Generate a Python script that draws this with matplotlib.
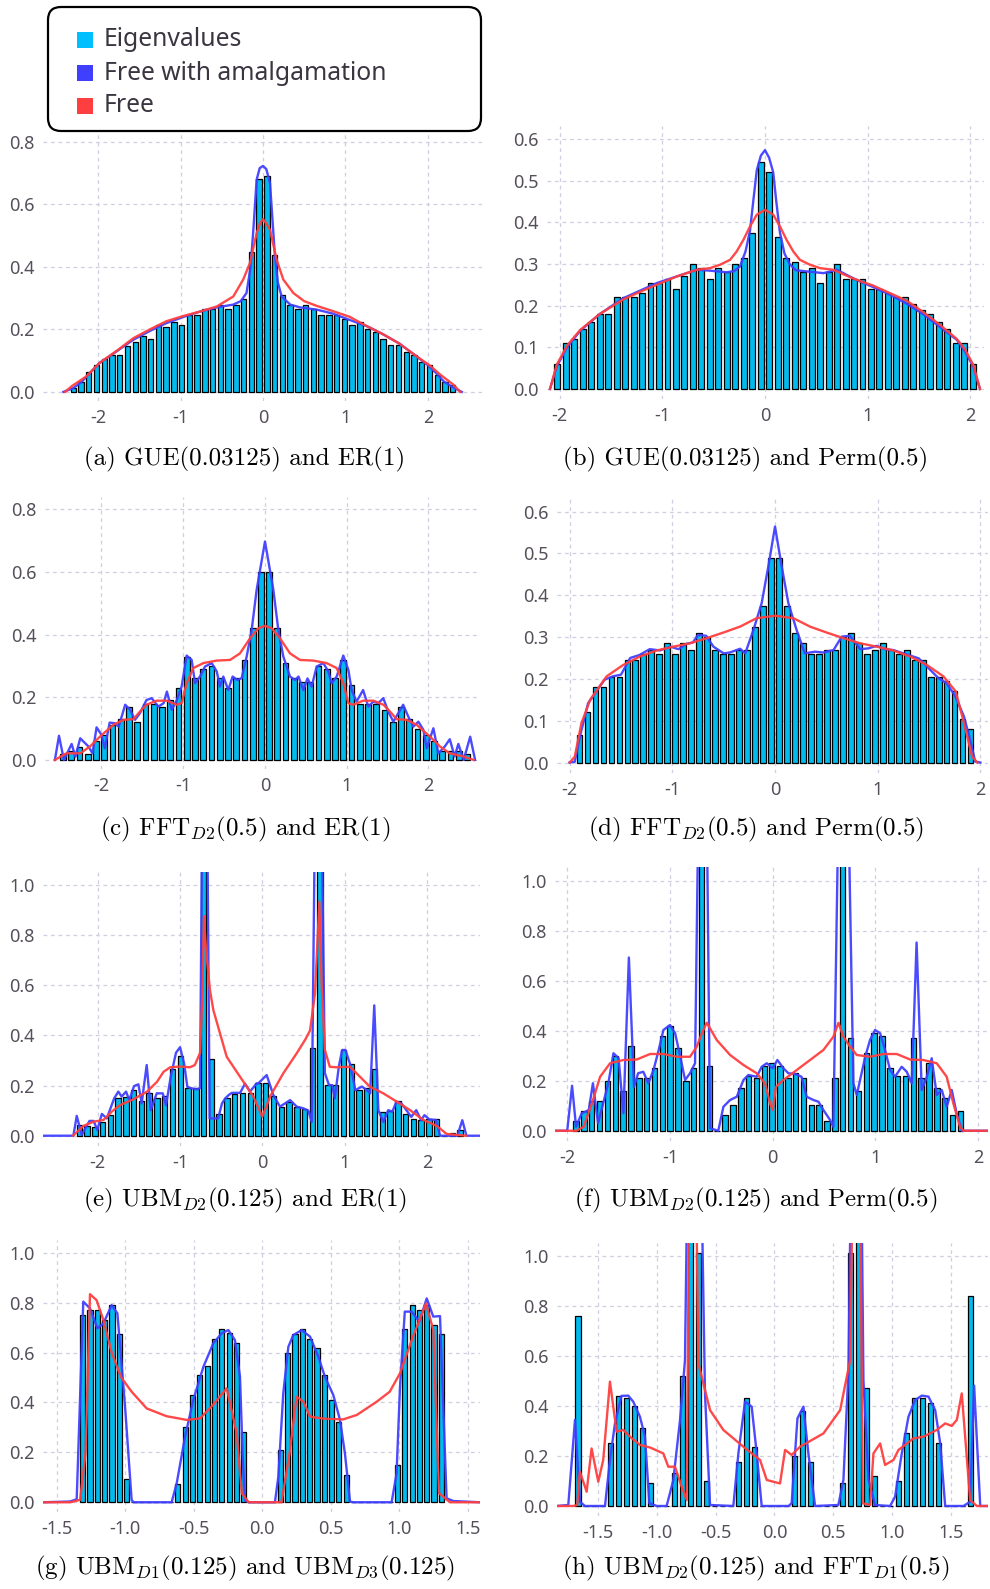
import numpy as np
import matplotlib
matplotlib.use("Agg")
import matplotlib.pyplot as plt
from matplotlib.patches import FancyBboxPatch, Rectangle
from matplotlib.ticker import FixedLocator, FormatStrFormatter

plt.rcParams['axes.unicode_minus'] = False
plt.rcParams['mathtext.fontset'] = 'cm'

# ------------------------------------------------------------------ data
legend_labels = ["Eigenvalues", "Free with amalgamation", "Free"]

# (a) GUE(0.03125) and ER(1)
a_bin_range = (-2.30, 2.30)
a_bars = [0.013, 0.032, 0.063, 0.085, 0.105, 0.117, 0.117, 0.146, 0.16, 0.18,
          0.17, 0.213, 0.207, 0.223, 0.213, 0.245, 0.245, 0.266, 0.266, 0.277,
          0.266, 0.277, 0.298, 0.447, 0.681, 0.691, 0.436, 0.309, 0.277, 0.266,
          0.277, 0.266, 0.245, 0.245, 0.245, 0.234, 0.213, 0.223, 0.202, 0.191,
          0.17, 0.149, 0.149, 0.128, 0.117, 0.096, 0.085, 0.053, 0.032, 0.021]
a_amalg = [(-2.42, 0), (-2.3, 0.012), (-2.2, 0.032), (-2.1, 0.06), (-1.98, 0.093), (-1.8, 0.125),
           (-1.57, 0.167), (-1.37, 0.195), (-1.17, 0.22), (-0.96, 0.24), (-0.76, 0.257), (-0.56, 0.27),
           (-0.36, 0.279), (-0.27, 0.29), (-0.2, 0.316), (-0.15, 0.40), (-0.117, 0.518), (-0.077, 0.678),
           (-0.04, 0.715), (0, 0.722), (0.04, 0.712), (0.085, 0.667), (0.115, 0.55), (0.145, 0.433),
           (0.18, 0.35), (0.226, 0.305), (0.33, 0.279), (0.45, 0.27), (0.65, 0.263), (0.85, 0.25),
           (1.05, 0.23), (1.26, 0.21), (1.45, 0.185), (1.65, 0.155), (1.86, 0.114), (2.0, 0.085),
           (2.1, 0.06), (2.19, 0.034), (2.3, 0.015), (2.41, 0)]
a_free = [(-2.40, 0), (-2.32, 0.018), (-2.14, 0.05), (-1.98, 0.093), (-1.78, 0.13), (-1.57, 0.172),
          (-1.37, 0.2), (-1.17, 0.226), (-0.96, 0.243), (-0.76, 0.257), (-0.56, 0.273), (-0.36, 0.305),
          (-0.24, 0.359), (-0.158, 0.412), (-0.077, 0.507), (-0.035, 0.54), (0, 0.552), (0.035, 0.54),
          (0.085, 0.518), (0.166, 0.422), (0.246, 0.359), (0.368, 0.316), (0.5, 0.29), (0.65, 0.275),
          (0.85, 0.258), (1.05, 0.24), (1.26, 0.21), (1.45, 0.185), (1.65, 0.155), (1.86, 0.114),
          (2.02, 0.085), (2.15, 0.055), (2.31, 0.023), (2.39, 0)]

# (b) GUE(0.03125) and Perm(0.5)
b_bin_range = (-2.025, 2.025)
b_bars = [0.06, 0.11, 0.12, 0.145, 0.16, 0.18, 0.18, 0.22, 0.22, 0.22,
          0.23, 0.255, 0.255, 0.265, 0.24, 0.27, 0.30, 0.29, 0.265, 0.29,
          0.28, 0.30, 0.315, 0.375, 0.545, 0.52, 0.365, 0.315, 0.305, 0.28,
          0.29, 0.255, 0.28, 0.30, 0.265, 0.265, 0.265, 0.24, 0.24, 0.23,
          0.22, 0.22, 0.205, 0.19, 0.18, 0.16, 0.145, 0.11, 0.11, 0.06]
b_amalg = [(-2.096, 0), (-2.03, 0.054), (-1.93, 0.10), (-1.80, 0.14), (-1.61, 0.18), (-1.38, 0.218),
           (-1.2, 0.238), (-1.056, 0.254), (-0.86, 0.27), (-0.666, 0.286), (-0.54, 0.284), (-0.374, 0.28),
           (-0.3, 0.283), (-0.244, 0.294), (-0.19, 0.33), (-0.146, 0.38), (-0.11, 0.46), (-0.08, 0.525),
           (-0.04, 0.56), (0, 0.573), (0.04, 0.555), (0.08, 0.52), (0.11, 0.45), (0.146, 0.375),
           (0.19, 0.325), (0.24, 0.30), (0.3, 0.285), (0.41, 0.282), (0.57, 0.278), (0.70, 0.286),
           (0.89, 0.262), (1.05, 0.245), (1.22, 0.226), (1.38, 0.205), (1.54, 0.18), (1.70, 0.15),
           (1.87, 0.118), (1.95, 0.09), (2.03, 0.054), (2.096, 0)]
b_free = [(-2.096, 0), (-2.03, 0.058), (-1.93, 0.104), (-1.80, 0.142), (-1.61, 0.18), (-1.38, 0.215),
          (-1.2, 0.235), (-1.056, 0.25), (-0.86, 0.27), (-0.666, 0.286), (-0.536, 0.29), (-0.44, 0.298),
          (-0.34, 0.31), (-0.276, 0.33), (-0.21, 0.358), (-0.146, 0.39), (-0.081, 0.418), (0, 0.43),
          (0.081, 0.418), (0.146, 0.39), (0.21, 0.358), (0.276, 0.33), (0.34, 0.31), (0.44, 0.298),
          (0.536, 0.29), (0.666, 0.286), (0.86, 0.265), (1.056, 0.248), (1.2, 0.232), (1.38, 0.212),
          (1.54, 0.185), (1.70, 0.155), (1.87, 0.12), (1.95, 0.095), (2.03, 0.058), (2.096, 0)]

# (c) FFT_D2(0.5) and ER(1)
c_bin_range = (-2.47, 2.47)
c_bars = [0.02, 0.03, 0.04, 0.02, 0.06, 0.08, 0.11, 0.13, 0.17, 0.12,
          0.18, 0.18, 0.17, 0.19, 0.23, 0.33, 0.26, 0.29, 0.30, 0.26,
          0.23, 0.26, 0.32, 0.42, 0.60, 0.60, 0.42, 0.31, 0.26, 0.25,
          0.25, 0.30, 0.29, 0.26, 0.32, 0.24, 0.18, 0.18, 0.18, 0.16,
          0.12, 0.17, 0.13, 0.10, 0.08, 0.06, 0.03, 0.03, 0.03, 0.02]
c_amalg = [(-2.57, 0), (-2.52, 0.077), (-2.46, 0), (-2.365, 0.051), (-2.32, 0.01), (-2.26, 0.069),
           (-2.16, 0.043), (-2.11, 0.021), (-2.06, 0.104), (-2.0, 0.08), (-1.96, 0.037), (-1.90, 0.119),
           (-1.835, 0.117), (-1.79, 0.106), (-1.71, 0.176), (-1.65, 0.16), (-1.59, 0.128), (-1.53, 0.149),
           (-1.45, 0.191), (-1.386, 0.197), (-1.305, 0.17), (-1.24, 0.181), (-1.2, 0.218), (-1.14, 0.16),
           (-1.08, 0.19), (-1.02, 0.234), (-0.958, 0.333), (-0.897, 0.319), (-0.856, 0.245), (-0.795, 0.266),
           (-0.734, 0.298), (-0.652, 0.309), (-0.59, 0.282), (-0.55, 0.234), (-0.51, 0.266), (-0.449, 0.223),
           (-0.396, 0.266), (-0.338, 0.255), (-0.285, 0.261), (-0.224, 0.33), (-0.163, 0.415), (-0.102, 0.543),
           (0, 0.697), (0.102, 0.543), (0.163, 0.415), (0.224, 0.33), (0.306, 0.266), (0.367, 0.255),
           (0.41, 0.266), (0.469, 0.223), (0.52, 0.26), (0.571, 0.234), (0.632, 0.298), (0.714, 0.309),
           (0.775, 0.282), (0.815, 0.245), (0.877, 0.266), (0.958, 0.333), (1.02, 0.287), (1.06, 0.223),
           (1.12, 0.186), (1.2, 0.223), (1.264, 0.17), (1.325, 0.186), (1.386, 0.181), (1.447, 0.197),
           (1.508, 0.154), (1.57, 0.122), (1.63, 0.149), (1.69, 0.176), (1.753, 0.138), (1.814, 0.106),
           (1.876, 0.122), (1.937, 0.096), (1.978, 0.037), (2.06, 0.101), (2.12, 0.021), (2.2, 0.043),
           (2.26, 0.066), (2.32, 0.011), (2.365, 0.051), (2.43, 0), (2.51, 0.074), (2.57, 0)]
c_free = [(-2.57, 0), (-2.43, 0.021), (-2.26, 0.021), (-2.14, 0.043), (-2.02, 0.074), (-1.855, 0.112),
          (-1.73, 0.128), (-1.61, 0.13), (-1.53, 0.154), (-1.45, 0.176), (-1.325, 0.189), (-1.2, 0.189),
          (-1.08, 0.176), (-1.02, 0.181), (-0.958, 0.245), (-0.877, 0.293), (-0.754, 0.309), (-0.59, 0.317),
          (-0.428, 0.319), (-0.306, 0.34), (-0.183, 0.388), (-0.082, 0.42), (0, 0.428), (0.082, 0.42),
          (0.183, 0.388), (0.306, 0.34), (0.428, 0.319), (0.59, 0.317), (0.754, 0.309), (0.877, 0.293),
          (0.958, 0.245), (1.02, 0.181), (1.08, 0.176), (1.2, 0.189), (1.325, 0.189), (1.45, 0.176),
          (1.53, 0.154), (1.61, 0.13), (1.73, 0.128), (1.855, 0.112), (2.02, 0.074), (2.14, 0.043),
          (2.26, 0.021), (2.43, 0.011), (2.55, 0)]

# (d) FFT_D2(0.5) and Perm(0.5)
d_bin_range = (-1.905, 1.905)
d_bars = [0.065, 0.12, 0.18, 0.18, 0.205, 0.205, 0.245, 0.245, 0.26, 0.27,
          0.26, 0.285, 0.26, 0.285, 0.27, 0.31, 0.30, 0.27, 0.26, 0.26,
          0.27, 0.27, 0.325, 0.375, 0.49, 0.49, 0.375, 0.31, 0.285, 0.26,
          0.26, 0.27, 0.27, 0.30, 0.31, 0.285, 0.26, 0.27, 0.285, 0.27,
          0.26, 0.27, 0.245, 0.245, 0.205, 0.205, 0.195, 0.17, 0.105, 0.08]
d_amalg = [(-2.0, 0), (-1.95, 0.002), (-1.90, 0.062), (-1.82, 0.142), (-1.74, 0.17), (-1.66, 0.198),
           (-1.58, 0.206), (-1.5, 0.21), (-1.41, 0.25), (-1.32, 0.257), (-1.22, 0.271), (-1.12, 0.268),
           (-1.02, 0.277), (-0.94, 0.271), (-0.86, 0.284), (-0.8, 0.287), (-0.75, 0.305), (-0.67, 0.303),
           (-0.6, 0.277), (-0.5, 0.261), (-0.44, 0.263), (-0.34, 0.272), (-0.29, 0.261), (-0.21, 0.317),
           (-0.13, 0.381), (-0.065, 0.469), (0, 0.564), (0.065, 0.469), (0.13, 0.381), (0.21, 0.317),
           (0.29, 0.261), (0.39, 0.265), (0.47, 0.263), (0.57, 0.269), (0.65, 0.301), (0.73, 0.303),
           (0.83, 0.271), (0.91, 0.273), (0.99, 0.279), (1.07, 0.271), (1.15, 0.269), (1.25, 0.261),
           (1.40, 0.249), (1.51, 0.222), (1.59, 0.202), (1.67, 0.19), (1.755, 0.159), (1.84, 0.11),
           (1.90, 0.054), (1.95, 0.002), (2.0, 0)]
d_free = [(-2.0, 0), (-1.95, 0.014), (-1.885, 0.094), (-1.80, 0.15), (-1.64, 0.206), (-1.48, 0.233),
          (-1.32, 0.253), (-1.15, 0.268), (-0.99, 0.277), (-0.83, 0.285), (-0.67, 0.297), (-0.5, 0.311),
          (-0.34, 0.325), (-0.18, 0.345), (0, 0.351), (0.18, 0.345), (0.34, 0.325), (0.5, 0.311),
          (0.67, 0.297), (0.83, 0.285), (0.99, 0.277), (1.15, 0.268), (1.32, 0.253), (1.48, 0.233),
          (1.64, 0.206), (1.76, 0.17), (1.84, 0.094), (1.92, 0.014), (1.97, 0)]

# (e) UBM_D2(0.125) and ER(1)
e_bin_range = (-2.224, 2.402)
e_bars = [0.043, 0.04, 0.033, 0.053, 0.083, 0.149, 0.156, 0.182, 0.138, 0.171,
          0.149, 0.158, 0.265, 0.318, 0.189, 0.189, 1.5, 0.306, 0.085, 0.149,
          0.166, 0.171, 0.171, 0.211, 0.211, 0.158, 0.116, 0.136, 0.116, 0.105,
          0.349, 1.5, 0.202, 0.202, 0.342, 0.286, 0.182, 0.189, 0.265, 0.096,
          0.098, 0.14, 0.087, 0.065, 0.063, 0.065, 0.065, 0.0, 0.01, 0.023]
e_amalg = [(-2.7, 0), (-2.296, 0), (-2.255, 0.079), (-2.195, 0.003), (-2.10, 0.059), (-2.05, 0.059),
           (-2.005, 0.023), (-1.95, 0.087), (-1.89, 0.069), (-1.80, 0.149), (-1.75, 0.176), (-1.71, 0.156),
           (-1.656, 0.176), (-1.616, 0.142), (-1.559, 0.198), (-1.506, 0.205), (-1.466, 0.129), (-1.405, 0.282),
           (-1.356, 0.102), (-1.283, 0.169), (-1.21, 0.169), (-1.17, 0.122), (-1.113, 0.235), (-1.049, 0.331),
           (-1.0, 0.353), (-0.951, 0.289), (-0.911, 0.195), (-0.858, 0.189), (-0.797, 0.185), (-0.757, 0.19),
           (-0.73, 1.3), (-0.67, 1.3), (-0.64, 0.069), (-0.537, 0.069), (-0.49, 0.129), (-0.45, 0.149),
           (-0.41, 0.162), (-0.37, 0.171), (-0.27, 0.171), (-0.21, 0.208), (-0.15, 0.176), (-0.068, 0.209),
           (-0.048, 0.209), (0.053, 0.242), (0.134, 0.162), (0.215, 0.116), (0.337, 0.142), (0.418, 0.116),
           (0.5, 0.109), (0.56, 0.1), (0.60, 0.055), (0.64, 1.3), (0.72, 1.3), (0.76, 0.25),
           (0.81, 0.202), (0.85, 0.202), (0.88, 0.149), (0.93, 0.276), (0.97, 0.342), (1.01, 0.342),
           (1.07, 0.282), (1.13, 0.182), (1.21, 0.196), (1.27, 0.182), (1.31, 0.169), (1.36, 0.52),
           (1.41, 0.102), (1.47, 0.055), (1.53, 0.102), (1.58, 0.096), (1.63, 0.136), (1.69, 0.129),
           (1.75, 0.102), (1.81, 0.075), (1.87, 0.102), (1.93, 0.062), (1.97, 0.082), (2.03, 0.065),
           (2.11, 0.063), (2.16, 0), (2.37, 0), (2.43, 0.062), (2.48, 0), (2.65, 0)]
e_free = [(-2.30, 0), (-2.175, 0.039), (-2.05, 0.056), (-1.93, 0.063), (-1.83, 0.096), (-1.73, 0.122),
          (-1.57, 0.145), (-1.40, 0.176), (-1.28, 0.215), (-1.2, 0.255), (-1.12, 0.273), (-1.0, 0.276),
          (-0.88, 0.273), (-0.82, 0.282), (-0.757, 0.33), (-0.73, 0.55), (-0.709, 0.876), (-0.684, 0.74),
          (-0.636, 0.58), (-0.595, 0.501), (-0.514, 0.408), (-0.433, 0.315), (-0.27, 0.235), (-0.109, 0.156),
          (0, 0.076), (0.1, 0.16), (0.255, 0.249), (0.418, 0.329), (0.519, 0.382), (0.58, 0.42),
          (0.64, 0.568), (0.693, 0.934), (0.72, 0.608), (0.76, 0.342), (0.82, 0.275), (0.9, 0.273),
          (1.066, 0.275), (1.187, 0.235), (1.309, 0.195), (1.47, 0.169), (1.633, 0.136), (1.795, 0.102),
          (1.957, 0.063), (2.12, 0.039), (2.24, 0.007), (2.48, 0)]

# (f) UBM_D2(0.125) and Perm(0.5)
f_bin_range = (-1.914, 1.826)
f_bars = [0.04, 0.08, 0.12, 0.12, 0.2, 0.3, 0.16, 0.34, 0.21, 0.21,
          0.25, 0.38, 0.42, 0.33, 0.2, 0.25, 1.5, 0.26, 0.0, 0.065,
          0.105, 0.17, 0.22, 0.21, 0.26, 0.27, 0.26, 0.21, 0.23, 0.21,
          0.105, 0.105, 0.04, 0.21, 1.5, 0.37, 0.16, 0.31, 0.39, 0.38,
          0.25, 0.22, 0.22, 0.37, 0.21, 0.27, 0.17, 0.13, 0.065, 0.08]
f_amalg = [(-2.13, 0), (-2.0, 0), (-1.953, 0.18), (-1.914, 0.016), (-1.86, 0.069), (-1.79, 0.083),
           (-1.75, 0.19), (-1.70, 0.03), (-1.65, 0.11), (-1.60, 0.19), (-1.55, 0.31), (-1.50, 0.29),
           (-1.453, 0.07), (-1.40, 0.693), (-1.35, 0.176), (-1.31, 0.23), (-1.26, 0.236), (-1.21, 0.19),
           (-1.16, 0.243), (-1.11, 0.323), (-1.064, 0.403), (-1.0, 0.423), (-0.95, 0.39), (-0.90, 0.296),
           (-0.853, 0.203), (-0.805, 0.23), (-0.756, 0.27), (-0.723, 1.3), (-0.642, 1.3), (-0.61, 0.01),
           (-0.53, 0), (-0.48, 0.096), (-0.415, 0.123), (-0.35, 0.136), (-0.285, 0.203), (-0.237, 0.223),
           (-0.156, 0.216), (-0.107, 0.256), (-0.058, 0.27), (0, 0.25), (0.045, 0.283), (0.104, 0.25),
           (0.152, 0.23), (0.217, 0.227), (0.28, 0.216), (0.33, 0.136), (0.396, 0.123), (0.445, 0.116),
           (0.493, 0.083), (0.558, 0.043), (0.59, 0.016), (0.64, 1.3), (0.736, 1.3), (0.785, 0.19),
           (0.818, 0.143), (0.9, 0.296), (0.947, 0.363), (0.996, 0.403), (1.045, 0.39), (1.093, 0.323),
           (1.142, 0.243), (1.19, 0.216), (1.255, 0.256), (1.304, 0.236), (1.353, 0.19), (1.40, 0.753),
           (1.45, 0.163), (1.50, 0.216), (1.547, 0.29), (1.596, 0.143), (1.645, 0.163), (1.693, 0.096),
           (1.742, 0.163), (1.79, 0.069), (1.84, 0), (2.115, 0)]
f_free = [(-2.13, 0), (-1.91, 0), (-1.84, 0.016), (-1.76, 0.109), (-1.68, 0.216), (-1.583, 0.27),
          (-1.453, 0.283), (-1.323, 0.285), (-1.194, 0.307), (-1.064, 0.307), (-0.934, 0.296), (-0.805, 0.296),
          (-0.74, 0.336), (-0.69, 0.39), (-0.642, 0.432), (-0.545, 0.363), (-0.415, 0.303), (-0.285, 0.263),
          (-0.156, 0.23), (-0.075, 0.19), (-0.026, 0.109), (0, 0.083), (0.032, 0.176), (0.104, 0.203),
          (0.234, 0.243), (0.363, 0.283), (0.493, 0.323), (0.59, 0.376), (0.64, 0.432), (0.688, 0.376),
          (0.753, 0.336), (0.818, 0.303), (0.947, 0.296), (1.077, 0.307), (1.207, 0.307), (1.337, 0.285),
          (1.466, 0.283), (1.596, 0.27), (1.693, 0.216), (1.758, 0.109), (1.823, 0.016), (1.856, 0),
          (2.115, 0)]

# (g) UBM_D1(0.125) and UBM_D3(0.125)
g_bin_range = (-1.311, 1.307)
g_bars = [0.75, 0.77, 0.77, 0.73, 0.79, 0.675, 0.095, 0, 0, 0,
          0, 0, 0, 0.075, 0.30, 0.43, 0.51, 0.545, 0.655, 0.695,
          0.68, 0.64, 0.28, 0, 0, 0, 0, 0.21, 0.60, 0.675,
          0.695, 0.655, 0.62, 0.51, 0.41, 0.32, 0.11, 0, 0, 0,
          0, 0, 0, 0.15, 0.695, 0.79, 0.77, 0.79, 0.71, 0.675]
g_amalg = [(-1.6, 0), (-1.404, 0.003), (-1.355, 0.012), (-1.307, 0.804), (-1.258, 0.777), (-1.204, 0.697),
           (-1.16, 0.717), (-1.10, 0.79), (-1.058, 0.757), (-1.002, 0.383), (-0.954, 0.009), (-0.94, 0),
           (-0.662, 0), (-0.625, 0.076), (-0.564, 0.263), (-0.504, 0.41), (-0.43, 0.543), (-0.358, 0.637),
           (-0.297, 0.677), (-0.248, 0.69), (-0.2, 0.65), (-0.163, 0.503), (-0.144, 0.196), (-0.127, 0.009),
           (-0.1, 0), (0.092, 0), (0.117, 0.103), (0.153, 0.437), (0.19, 0.623), (0.226, 0.67),
           (0.287, 0.69), (0.348, 0.664), (0.409, 0.583), (0.457, 0.503), (0.518, 0.43), (0.567, 0.33),
           (0.603, 0.196), (0.64, 0.003), (0.664, 0), (0.944, 0), (0.98, 0.116), (1.005, 0.463),
           (1.04, 0.764), (1.09, 0.764), (1.146, 0.724), (1.2, 0.817), (1.248, 0.744), (1.297, 0.746),
           (1.345, 0.016), (1.394, 0.005), (1.59, 0)]
g_free = [(-1.6, 0), (-1.40, 0), (-1.33, 0.01), (-1.29, 0.2), (-1.258, 0.834), (-1.21, 0.81),
          (-1.16, 0.73), (-1.10, 0.6), (-1.03, 0.5), (-0.954, 0.443), (-0.844, 0.376), (-0.7, 0.345),
          (-0.552, 0.33), (-0.455, 0.336), (-0.36, 0.39), (-0.26, 0.457), (-0.187, 0.276), (-0.15, 0.036),
          (-0.1, 0), (0.14, 0), (0.2, 0.2), (0.25, 0.423), (0.3, 0.403), (0.348, 0.343),
          (0.45, 0.335), (0.59, 0.332), (0.69, 0.35), (0.835, 0.403), (0.93, 0.443), (1.005, 0.517),
          (1.10, 0.664), (1.195, 0.797), (1.248, 0.69), (1.29, 0.036), (1.37, 0), (1.59, 0)]

# (h) UBM_D2(0.125) and FFT_D1(0.5)
h_bin_range = (-1.667, 1.667)
h_bars = [0.76, 0, 0, 0, 0.25, 0.44, 0.43, 0.40, 0.31, 0.09,
          0, 0, 0.13, 0.52, 1.5, 1.01, 0.10, 0, 0, 0,
          0.175, 0.43, 0.235, 0, 0, 0, 0, 0.20, 0.38, 0.175,
          0, 0, 0, 0.09, 1.01, 1.5, 0.47, 0.12, 0, 0,
          0.10, 0.29, 0.43, 0.43, 0.41, 0.25, 0, 0, 0, 0.84]
h_amalg = [(-1.85, 0), (-1.752, 0.004), (-1.695, 0.344), (-1.653, 0.017), (-1.61, 0), (-1.44, 0),
           (-1.398, 0.184), (-1.355, 0.33), (-1.30, 0.44), (-1.242, 0.441), (-1.20, 0.417), (-1.143, 0.357),
           (-1.10, 0.277), (-1.063, 0.011), (-1.0, 0), (-0.916, 0), (-0.859, 0.104), (-0.802, 0.344),
           (-0.76, 0.583), (-0.74, 1.3), (-0.62, 1.3), (-0.59, 0.45), (-0.547, 0.004), (-0.349, 0),
           (-0.306, 0.21), (-0.25, 0.417), (-0.193, 0.397), (-0.15, 0.21), (-0.108, 0), (0.12, 0),
           (0.147, 0.011), (0.196, 0.35), (0.247, 0.397), (0.289, 0.21), (0.346, 0), (0.544, 0.004),
           (0.587, 0.104), (0.63, 0.543), (0.65, 1.3), (0.74, 1.3), (0.757, 0.503), (0.8, 0.104),
           (0.856, 0.004), (0.984, 0), (1.026, 0.037), (1.083, 0.21), (1.14, 0.357), (1.196, 0.423),
           (1.253, 0.441), (1.31, 0.437), (1.367, 0.383), (1.41, 0.25), (1.452, 0), (1.608, 0),
           (1.664, 0.017), (1.698, 0.481), (1.75, 0), (1.834, 0)]
h_free = [(-1.85, 0), (-1.71, 0), (-1.676, 0.004), (-1.653, 0.137), (-1.596, 0.057), (-1.554, 0.23),
          (-1.497, 0.097), (-1.455, 0.184), (-1.398, 0.497), (-1.341, 0.297), (-1.284, 0.304), (-1.228, 0.277),
          (-1.143, 0.244), (-1.058, 0.234), (-0.944, 0.21), (-0.902, 0.157), (-0.845, 0.157), (-0.788, 0.077),
          (-0.746, 0.024), (-0.723, 1.3), (-0.666, 1.3), (-0.646, 0.57), (-0.547, 0.383), (-0.434, 0.304),
          (-0.264, 0.237), (-0.122, 0.184), (-0.065, 0.104), (0.048, 0.09), (0.091, 0.224), (0.147, 0.204),
          (0.218, 0.237), (0.417, 0.29), (0.559, 0.383), (0.644, 0.583), (0.666, 1.3), (0.729, 1.3),
          (0.751, 0.011), (0.814, 0.004), (0.842, 0.21), (0.899, 0.25), (0.941, 0.164), (1.012, 0.184),
          (1.055, 0.224), (1.182, 0.27), (1.267, 0.277), (1.381, 0.304), (1.452, 0.33), (1.508, 0.32),
          (1.551, 0.344), (1.593, 0.45), (1.664, 0.024), (1.721, 0), (1.834, 0)]

captions = [r"(a) GUE(0.03125) and ER(1)",
            r"(b) GUE(0.03125) and Perm(0.5)",
            r"(c) FFT$_{D2}$(0.5) and ER(1)",
            r"(d) FFT$_{D2}$(0.5) and Perm(0.5)",
            r"(e) UBM$_{D2}$(0.125) and ER(1)",
            r"(f) UBM$_{D2}$(0.125) and Perm(0.5)",
            r"(g) UBM$_{D1}$(0.125) and UBM$_{D3}$(0.125)",
            r"(h) UBM$_{D2}$(0.125) and FFT$_{D1}$(0.5)"]

xt_int = [-2, -1, 0, 1, 2]
xt_half = [-1.5, -1.0, -0.5, 0.0, 0.5, 1.0, 1.5]
yt_08 = [0.0, 0.2, 0.4, 0.6, 0.8]
yt_06 = [0.0, 0.1, 0.2, 0.3, 0.4, 0.5, 0.6]
yt_10 = [0.0, 0.2, 0.4, 0.6, 0.8, 1.0]

# ------------------------------------------------------------------ style / layout
W, H = 990, 1589
C_BAR = '#00bbee'
C_AMALG = '#4040ff'
C_FREE = '#ff3f3f'
C_TICK = '#554f5a'
C_GRID = '#cfcfe2'
TICK_FONT = ['Noto Sans', 'DejaVu Sans']

fig = plt.figure(figsize=(W / 100, H / 100), dpi=100)
fig.patch.set_facecolor('white')

# panel: (rect px L,T,R,B), xlim, ylim, xticks, yticks, xfmt, bars, range, amalg, free, caption xy (px)
panels = [
    ((43, 129, 482, 401), (-2.667, 2.655), (-0.029, 0.840), xt_int, yt_08, '%d',
     a_bars, a_bin_range, a_amalg, a_free, (245, 465)),
    ((547, 126, 984, 399), (-2.125, 2.135), (-0.024, 0.631), xt_int, yt_06, '%d',
     b_bars, b_bin_range, b_amalg, b_free, (746, 465)),
    ((45, 497, 480, 769), (-2.691, 2.630), (-0.029, 0.839), xt_int, yt_08, '%d',
     c_bars, c_bin_range, c_amalg, c_free, (245, 835)),
    ((557, 499, 988, 773), (-2.123, 2.074), (-0.025, 0.630), xt_int, yt_06, '%d',
     d_bars, d_bin_range, d_amalg, d_free, (756, 835)),
    ((43, 872, 480, 1146), (-2.665, 2.645), (-0.041, 1.052), xt_int, yt_10, '%d',
     e_bars, e_bin_range, e_amalg, e_free, (245, 1206)),
    ((555, 867, 988, 1141), (-2.119, 2.095), (-0.041, 1.055), xt_int, yt_10, '%d',
     f_bars, f_bin_range, f_amalg, f_free, (756, 1206)),
    ((43, 1240, 480, 1512), (-1.601, 1.589), (-0.039, 1.051), xt_half, yt_10, '%.1f',
     g_bars, g_bin_range, g_amalg, g_free, (245, 1574)),
    ((557, 1243, 988, 1516), (-1.848, 1.816), (-0.040, 1.051), xt_half, yt_10, '%.1f',
     h_bars, h_bin_range, h_amalg, h_free, (756, 1574)),
]

for (rect, xl, yl, xt, yt, xfmt, bars, brange, amalg, free, cap_xy), cap in zip(panels, captions):
    L, T, R, B = rect
    ax = fig.add_axes([L / W, 1 - B / H, (R - L) / W, (B - T) / H])
    ax.set_facecolor('white')
    centers = np.linspace(brange[0], brange[1], len(bars))
    step = centers[1] - centers[0]
    ax.bar(centers, bars, width=step * 0.70, color=C_BAR, edgecolor='black',
           linewidth=0.9, zorder=2)
    am = np.array(amalg)
    fr = np.array(free)
    ax.plot(am[:, 0], am[:, 1], color=C_AMALG, lw=1.7, alpha=0.95, zorder=3)
    ax.plot(fr[:, 0], fr[:, 1], color=C_FREE, lw=1.7, alpha=0.95, zorder=4)
    ax.set_xlim(*xl)
    ax.set_ylim(*yl)
    ax.xaxis.set_major_locator(FixedLocator(xt))
    ax.yaxis.set_major_locator(FixedLocator(yt))
    ax.xaxis.set_major_formatter(FormatStrFormatter(xfmt))
    ax.yaxis.set_major_formatter(FormatStrFormatter('%.1f'))
    for s in ax.spines.values():
        s.set_visible(False)
    ax.tick_params(length=0, pad=6, labelsize=13, labelcolor=C_TICK)
    for lab in ax.get_xticklabels() + ax.get_yticklabels():
        lab.set_family(TICK_FONT)
    ax.grid(True, linestyle=(0, (3, 3)), color=C_GRID, linewidth=0.9, zorder=0)
    ax.set_axisbelow(True)
    fig.text(cap_xy[0] / W, 1 - cap_xy[1] / H, cap, ha='center', va='baseline',
             fontsize=18, family='cmr10', color='black')

# ------------------------------------------------------------------ legend box
tr = fig.dpi_scale_trans
box = FancyBboxPatch((48 / 100, (H - 131) / 100), 433 / 100, 124 / 100,
                     boxstyle='round,pad=0,rounding_size=0.13', transform=tr,
                     facecolor='white', edgecolor='black', linewidth=1.6, zorder=10)
fig.add_artist(box)
leg_colors = ['#00bfff', '#3f3fff', '#ff3f3f']
leg_y = [40, 73, 106]
for lab, col, yy in zip(legend_labels, leg_colors, leg_y):
    sq = Rectangle((77 / 100, (H - yy - 8) / 100), 16 / 100, 16 / 100, transform=tr,
                   facecolor=col, edgecolor='none', zorder=11)
    fig.add_artist(sq)
    fig.text(104 / 100, (H - yy) / 100, lab, transform=tr, va='center', ha='left',
             fontsize=17.8, family=TICK_FONT, color='#3a3540', zorder=12)

fig.savefig('out.png', dpi=100, facecolor='white')
